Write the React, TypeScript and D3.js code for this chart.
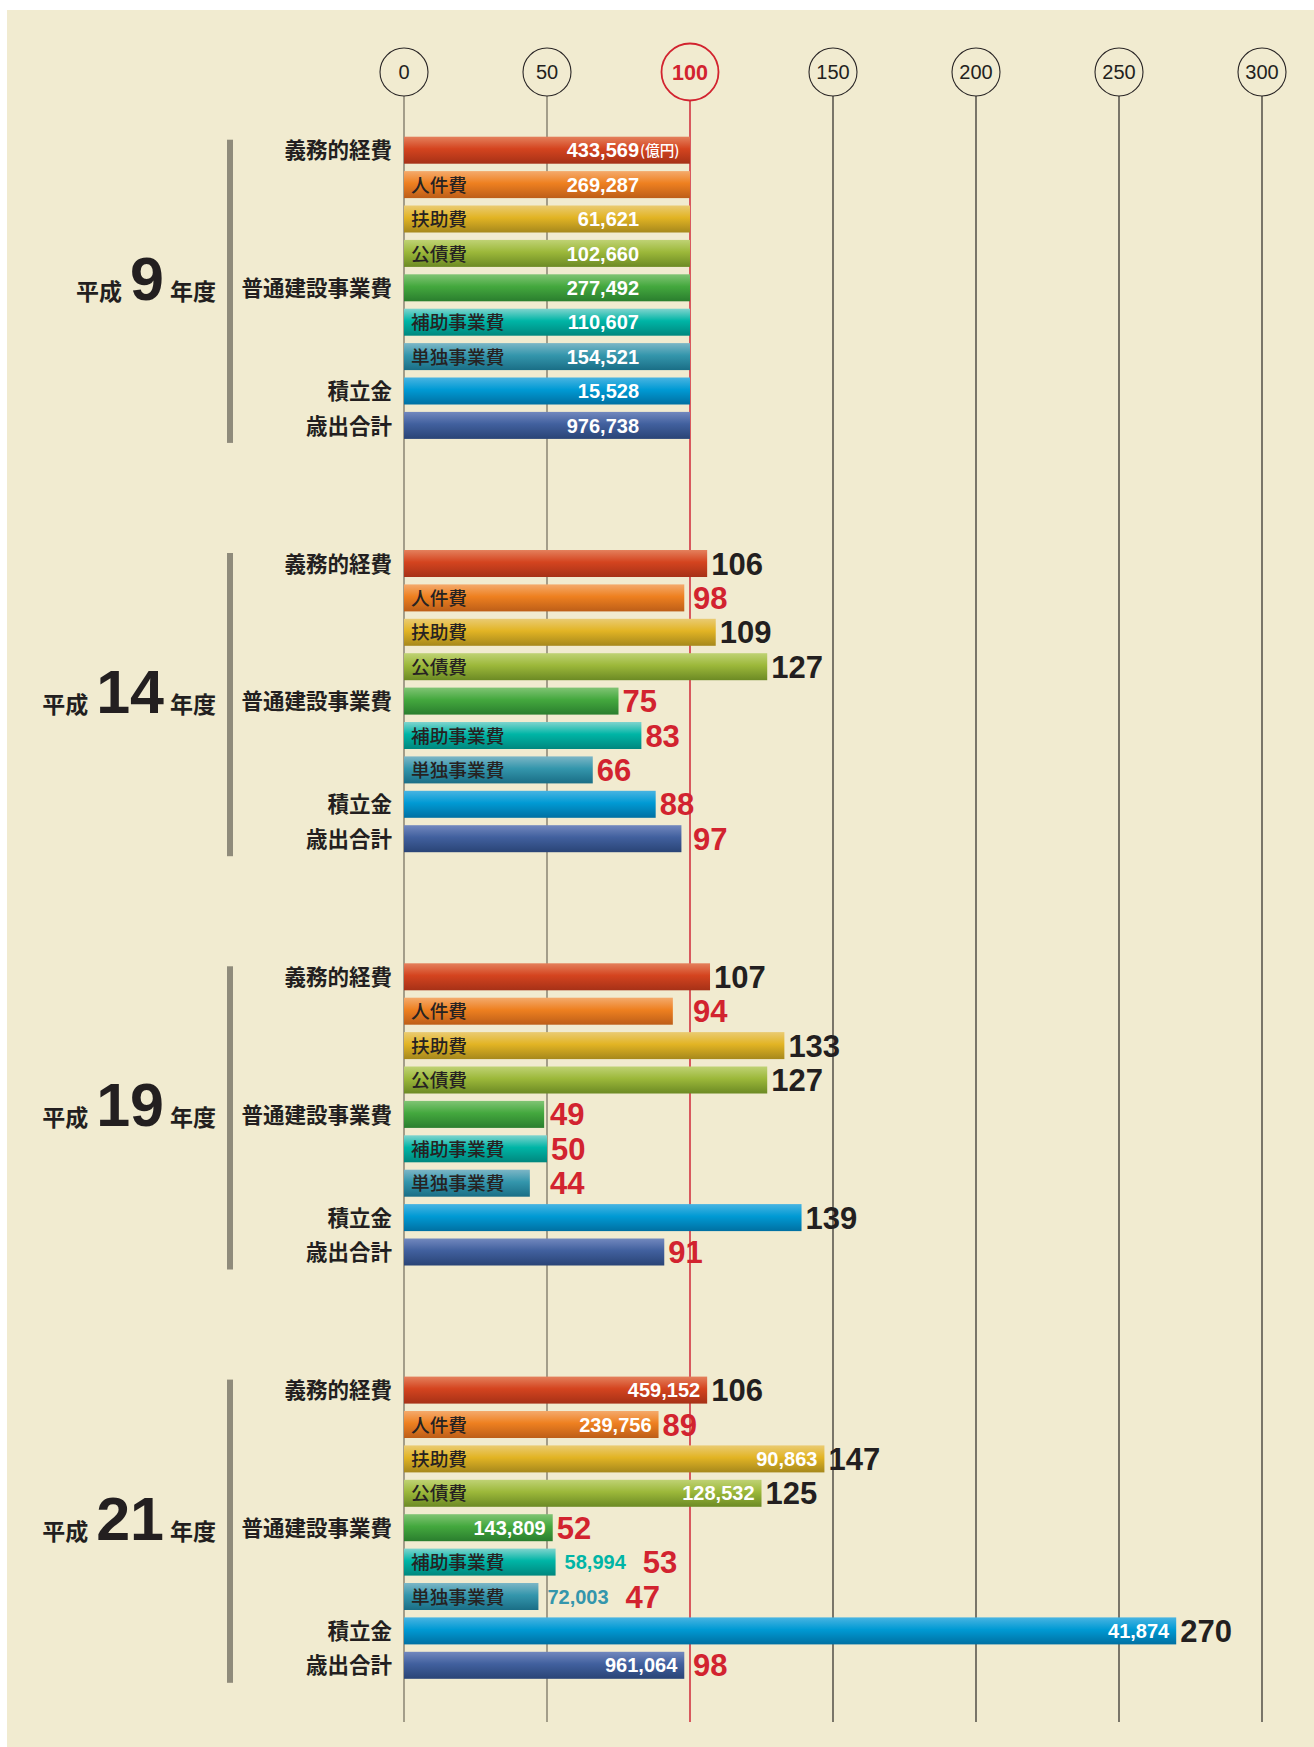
import * as d3 from "d3";
import { useMemo } from "react";

// 年度ごとの指数（平成9年度 = 100）と金額（億円）
const years = ["9", "14", "19", "21"];
const categories = [
  "義務的経費",
  "人件費",
  "扶助費",
  "公債費",
  "普通建設事業費",
  "補助事業費",
  "単独事業費",
  "積立金",
  "歳出合計",
];
// 内訳項目はバーの中に名前を書く
const subItem = [false, true, true, true, false, true, true, false, false];

const indexH9 = [100, 100, 100, 100, 100, 100, 100, 100, 100];
const indexH14 = [106, 98, 109, 127, 75, 83, 66, 88, 97];
const indexH19 = [107, 94, 133, 127, 49, 50, 44, 139, 91];
const indexH21 = [106, 89, 147, 125, 52, 53, 47, 270, 98];

const amountsH9 = ["433,569", "269,287", "61,621", "102,660", "277,492", "110,607", "154,521", "15,528", "976,738"];
const amountsH21 = ["459,152", "239,756", "90,863", "128,532", "143,809", "58,994", "72,003", "41,874", "961,064"];

const axisTicks = [0, 50, 100, 150, 200, 250, 300];

// top / middle / bottom of each bar gradient
const barColors = [
  ["#e4805c", "#d4441f", "#a63117"],
  ["#f4aa6c", "#ee8020", "#bd5e18"],
  ["#eacb72", "#e2b424", "#a6881c"],
  ["#bfd274", "#9cb83a", "#6c8a24"],
  ["#80c474", "#44a83e", "#2a7e2e"],
  ["#7fd4ce", "#00b5a6", "#00877e"],
  ["#7cb6c6", "#3496ac", "#1a6e86"],
  ["#48b4e2", "#009ad4", "#0070a2"],
  ["#7288be", "#41609e", "#2a4476"],
];

const W = 1314;
const H = 1747;
const JP = "'Noto Sans CJK JP', 'Noto Sans', sans-serif";
const NUM = "'Liberation Sans', Arial, sans-serif";
const INK = "#231f20";
const RED = "#d2232f";

function amountWidth(s) {
  const commas = (s.match(/,/g) || []).length;
  return (s.length - commas) * 11.1 + commas * 5.6;
}

export default function App() {
  const table = useMemo(
    () => [
      { year: years[0], values: indexH9, amounts: amountsH9, base: true },
      { year: years[1], values: indexH14, amounts: null, base: false },
      { year: years[2], values: indexH19, amounts: null, base: false },
      { year: years[3], values: indexH21, amounts: amountsH21, base: false },
    ],
    []
  );

  const x = d3.scaleLinear().domain([0, 300]).range([404, 1262]);
  const groupY = d3.scalePoint().domain(years).range([133, 133 + 3 * 413.3]);
  const rowY = d3
    .scaleBand()
    .domain(categories)
    .range([0, 9 * 34.4])
    .paddingInner(0.215)
    .paddingOuter(0.1075);
  const bh = rowY.bandwidth();
  const gridBottom = 1722;
  const circleY = 72;

  // keep the index number clear of the 50 / 100 lines when it would sit on them
  const indexLabelX = (end) => {
    const hit = axisTicks
      .filter((t) => t > 0 && t <= 100)
      .map((t) => x(t))
      .find((g) => g > end + 0.5 && g < end + 18);
    return hit !== undefined ? hit + 3 : end + 4;
  };

  return (
    <div style={{ position: "absolute", left: 0, top: 0 }}>
      <svg width={W} height={H} style={{ display: "block", background: "#ffffff" }}>
        <defs>
          {barColors.map((c, i) => (
            <linearGradient key={i} id={`bar-${i}`} x1="0" y1="0" x2="0" y2="1">
              <stop offset="0" stopColor={c[0]} />
              <stop offset="0.45" stopColor={c[1]} />
              <stop offset="1" stopColor={c[2]} />
            </linearGradient>
          ))}
        </defs>
        <rect x={7} y={10} width={W - 7} height={H - 10} fill="#f1ebd0" />

        {/* axis: circles and vertical lines */}
        {axisTicks.map((t) => {
          const isBase = t === 100;
          const r = isBase ? 28.5 : 24;
          return (
            <g key={t}>
              <line
                x1={x(t)}
                x2={x(t)}
                y1={circleY + r}
                y2={gridBottom}
                stroke={isBase ? "#d23440" : t <= 50 ? "#7a7464" : "#3a3632"}
                strokeWidth={isBase ? 1.6 : 1.3}
              />
              <circle
                cx={x(t)}
                cy={circleY}
                r={r}
                fill="none"
                stroke={isBase ? RED : "#2a2626"}
                strokeWidth={isBase ? 1.8 : 1.1}
              />
              <text
                x={x(t)}
                y={circleY + (isBase ? 21.5 : 20) * 0.358}
                textAnchor="middle"
                fontFamily={NUM}
                fontWeight={isBase ? 700 : 400}
                fontSize={isBase ? 21.5 : 20}
                fill={isBase ? RED : INK}
              >
                {t}
              </text>
            </g>
          );
        })}

        {table.map((g) => {
          const gy = groupY(g.year);
          const first = gy + rowY(categories[0]);
          const last = gy + rowY(categories[categories.length - 1]) + bh;
          const midRow = gy + rowY(categories[4]) + bh / 2;
          return (
            <g key={g.year}>
              <rect x={227} y={first + 3} width={6} height={last - first + 1} fill="#8f8b7b" />
              <text x={216} y={midRow + 12} textAnchor="end" fill={INK} fontWeight={700}>
                <tspan fontFamily={JP} fontSize={23}>
                  平成
                </tspan>
                <tspan dx={8} fontFamily={NUM} fontSize={61}>
                  {g.year}
                </tspan>
                <tspan dx={6} fontFamily={JP} fontSize={23}>
                  年度
                </tspan>
              </text>

              {categories.map((cat, i) => {
                const y = gy + rowY(cat);
                const cy = y + bh / 2;
                const v = g.values[i];
                const end = x(v);
                const amt = g.amounts ? g.amounts[i] : null;
                const labelRight = subItem[i] ? x(0) + 7 + cat.length * 18.7 : x(0);
                const aw = amt ? amountWidth(amt) : 0;
                const amtInside = amt && (g.base || labelRight + 8 + aw + 7 <= end);
                let idxX = indexLabelX(end);
                if (amt && !amtInside) idxX = end + 9 + aw + 17;
                return (
                  <g key={cat}>
                    {!subItem[i] && (
                      <text
                        x={392}
                        y={cy + 21.5 * 0.38}
                        textAnchor="end"
                        fontFamily={JP}
                        fontWeight={700}
                        fontSize={21.5}
                        fill={INK}
                      >
                        {cat}
                      </text>
                    )}
                    <rect x={x(0)} y={y} width={end - x(0)} height={bh} fill={`url(#bar-${i})`} />
                    {subItem[i] && (
                      <text
                        x={x(0) + 7}
                        y={cy + 18.7 * 0.38}
                        fontFamily={JP}
                        fontWeight={500}
                        fontSize={18.7}
                        fill="#262222"
                      >
                        {cat}
                      </text>
                    )}
                    {amt && g.base && (
                      <text
                        x={end - 51}
                        y={cy + 20 * 0.358}
                        textAnchor="end"
                        fontFamily={NUM}
                        fontWeight={700}
                        fontSize={20}
                        fill="#ffffff"
                      >
                        {amt}
                      </text>
                    )}
                    {amt && g.base && i === 0 && (
                      <text x={end - 50} y={cy + 6} fontFamily={JP} fontWeight={500} fontSize={14.5} fill="#ffffff">
                        (億円)
                      </text>
                    )}
                    {amt && !g.base && (
                      <text
                        x={amtInside ? end - 7 : end + 9}
                        y={cy + 20 * 0.358}
                        textAnchor={amtInside ? "end" : "start"}
                        fontFamily={NUM}
                        fontWeight={700}
                        fontSize={20}
                        fill={amtInside ? "#ffffff" : barColors[i][1]}
                      >
                        {amt}
                      </text>
                    )}
                    {!g.base && (
                      <text
                        x={idxX}
                        y={cy + 31 * 0.358}
                        fontFamily={NUM}
                        fontWeight={700}
                        fontSize={31}
                        fill={v >= 100 ? INK : RED}
                      >
                        {v}
                      </text>
                    )}
                  </g>
                );
              })}
            </g>
          );
        })}
      </svg>
    </div>
  );
}
